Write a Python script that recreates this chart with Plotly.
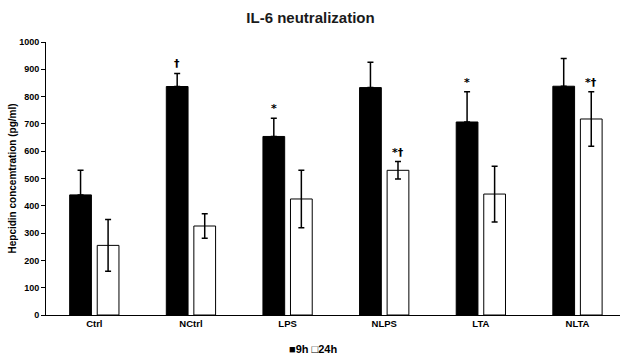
import plotly.graph_objects as go

categories = ["Ctrl", "NCtrl", "LPS", "NLPS", "LTA", "NLTA"]
vals_9h = [440, 837, 654, 833, 707, 838]
err_9h = [90, 48, 67, 93, 111, 102]
vals_24h = [255, 326, 425, 530, 443, 718]
err_24h = [95, 45, 105, 32, 102, 100]
marks_9h = ["", "†", "*", "", "*", ""]
marks_24h = ["", "", "", "*†", "", "*†"]
series_names = ["9h", "24h"]
y_ticks = list(range(0, 1001, 100))

FONT = "Liberation Sans, Arial, sans-serif"
MARK_FONT = "DejaVu Sans, Liberation Sans, sans-serif"
BAR_W = 0.225
OFF_9 = -0.255
OFF_24 = 0.03

fig = go.Figure()
fig.add_trace(go.Bar(
    x=categories, y=vals_9h, name=series_names[0],
    width=BAR_W, offset=OFF_9,
    marker=dict(color="black", line=dict(color="black", width=1)),
    error_y=dict(type="data", array=err_9h, symmetric=False, arrayminus=[0]*6,
                 color="black", thickness=1.5, width=3),
    showlegend=False,
))
fig.add_trace(go.Bar(
    x=categories, y=vals_24h, name=series_names[1],
    width=BAR_W, offset=OFF_24,
    marker=dict(color="white", line=dict(color="black", width=1)),
    error_y=dict(type="data", array=err_24h, color="black", thickness=1.5, width=3),
    showlegend=False,
))

annotations = []
for i, c in enumerate(categories):
    if marks_9h[i]:
        annotations.append(dict(
            x=i + OFF_9 + BAR_W / 2, y=vals_9h[i] + err_9h[i], xref="x", yref="y",
            text="<b>" + marks_9h[i] + "</b>", showarrow=False, yanchor="bottom", yshift=1,
            font=dict(family=MARK_FONT, size=11, color="black")))
    if marks_24h[i]:
        annotations.append(dict(
            x=i + OFF_24 + BAR_W / 2, y=vals_24h[i] + err_24h[i], xref="x", yref="y",
            text="<b>" + marks_24h[i] + "</b>", showarrow=False, yanchor="bottom", yshift=1,
            font=dict(family=MARK_FONT, size=11, color="black")))

annotations.append(dict(
    x=0.465, y=-0.125, xref="paper", yref="paper",
    text="<b>■" + series_names[0] + " □" + series_names[1] + "</b>",
    showarrow=False, yanchor="middle", xanchor="center",
    font=dict(family=FONT, size=11, color="black")))

fig.update_layout(
    width=621, height=355,
    margin=dict(l=46, r=1, t=42, b=40, autoexpand=False),
    paper_bgcolor="white", plot_bgcolor="white",
    title=dict(text="<b>IL-6 neutralization</b>", x=0.5, xanchor="center",
               y=0.95, yanchor="middle",
               font=dict(family=FONT, size=15, color="#1a1a1a")),
    font=dict(family=FONT, size=10, color="black"),
    annotations=annotations,
    barmode="overlay",
    xaxis=dict(range=[-0.5, 5.44], showline=True, linecolor="black", linewidth=1,
               ticks="", tickfont=dict(family=FONT, size=9.5, color="black"),
               tickprefix="<b>", ticksuffix="</b>", showgrid=False, zeroline=False,
               automargin=False),
    yaxis=dict(range=[0, 1000], tickvals=y_ticks,
               ticktext=["<b>%d</b>" % v for v in y_ticks],
               showline=True, linecolor="black", linewidth=1,
               ticks="outside", ticklen=4, tickcolor="black",
               tickfont=dict(family=FONT, size=9, color="black"),
               showgrid=False, zeroline=False, automargin=False,
               title=dict(text="<b>Hepcidin concemtration (pg/ml)</b>",
                          font=dict(family=FONT, size=10, color="black"), standoff=0)),
)

fig.write_html("out.html", config={"displayModeBar": False},
               post_script="document.body.style.margin='0';document.body.style.overflow='hidden';")
